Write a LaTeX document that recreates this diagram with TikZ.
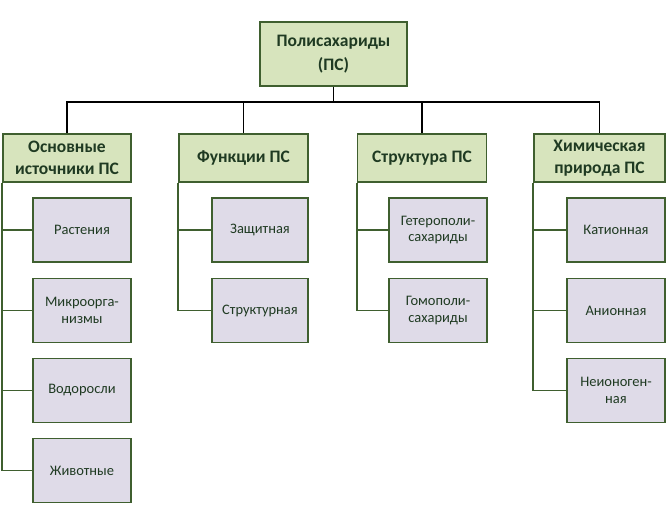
\documentclass[tikz,border=0pt]{standalone}
\usepackage{fontspec}
\setmainfont{Carlito}
\definecolor{gfill}{HTML}{D7E4BD}
\definecolor{gline}{HTML}{3F5F2F}
\definecolor{lfill}{HTML}{DFDBE8}
\definecolor{tcol}{HTML}{1F3A22}
\tikzset{
  topbox/.style={draw=gline, fill=gfill, line width=1.8pt, inner sep=0pt,
    minimum width=147pt, minimum height=64pt, align=center, text=tcol,
    font=\fontsize{17.5}{24}\selectfont\bfseries},
  lvbox/.style={draw=gline, fill=gfill, line width=1.8pt, inner sep=0pt,
    minimum width=129pt, minimum height=48pt, align=center, text=tcol,
    font=\fontsize{17.5}{22}\selectfont\bfseries},
  leafbox/.style={draw=gline, fill=lfill, line width=1.8pt, inner sep=0pt,
    minimum width=97pt, minimum height=64pt, align=center, text=tcol,
    font=\fontsize{14.5}{16.5}\selectfont},
  blk/.style={draw=black, line width=1.8pt},
  grn/.style={draw=gline, line width=1.8pt}
}
\begin{document}
\begin{tikzpicture}[x=1pt,y=-1pt]
\useasboundingbox (0,0) rectangle (669,523);
\fill[white] (0,0) rectangle (669,523);

\node[topbox] (top) at (333.5,54) {Полисахариды\\(ПС)};

\node[lvbox, minimum width=128pt] (c1) at (67,158) {Основные\\источники ПС};
\node[lvbox] (c2) at (243.5,158) {Функции ПС};
\node[lvbox] (c3) at (422,158) {Структура ПС};
\node[lvbox, minimum width=131pt] (c4) at (599.5,158) {Химическая\\природа ПС};

\coordinate (bus) at (333.5,102);

\node[leafbox, minimum width=98pt] (a1) at (82,230) {Растения};
\node[leafbox, minimum width=98pt] (a2) at (82,310.5) {Микроорга-\\низмы};
\node[leafbox, minimum width=98pt] (a3) at (82,390.5) {Водоросли};
\node[leafbox, minimum width=98pt] (a4) at (82,470.5) {Животные};

\node[leafbox, minimum width=96pt] (b1) at (260,230) {Защитная};
\node[leafbox, minimum width=96pt] (b2) at (260,310.5) {Структурная};

\node[leafbox, minimum width=98pt] (d1) at (438,230) {Гетерополи-\\сахариды};
\node[leafbox, minimum width=98pt] (d2) at (438,310.5) {Гомополи-\\сахариды};

\node[leafbox, minimum width=98pt] (e1) at (616,230) {Катионная};
\node[leafbox, minimum width=98pt] (e2) at (616,310.5) {Анионная};
\node[leafbox, minimum width=98pt] (e3) at (616,390.5) {Неионоген-\\ная};

% top connectors
\draw[blk] (top.south) -- (bus);
\draw[blk] (c1.north) -- (c1.north |- bus) -- (c4.north |- bus) -- (c4.north);
\draw[blk] (c2.north) -- (c2.north |- bus);
\draw[blk] (c3.north) -- (c3.north |- bus);

% trunks
\draw[grn] (c1.south west) |- (a4.west);
\draw[grn] (c1.south west |- a1.west) -- (a1.west);
\draw[grn] (c1.south west |- a2.west) -- (a2.west);
\draw[grn] (c1.south west |- a3.west) -- (a3.west);

\draw[grn] (c2.south west) |- (b2.west);
\draw[grn] (c2.south west |- b1.west) -- (b1.west);

\draw[grn] (c3.south west) |- (d2.west);
\draw[grn] (c3.south west |- d1.west) -- (d1.west);

\draw[grn] (c4.south west) |- (e3.west);
\draw[grn] (c4.south west |- e1.west) -- (e1.west);
\draw[grn] (c4.south west |- e2.west) -- (e2.west);
\end{tikzpicture}
\end{document}
